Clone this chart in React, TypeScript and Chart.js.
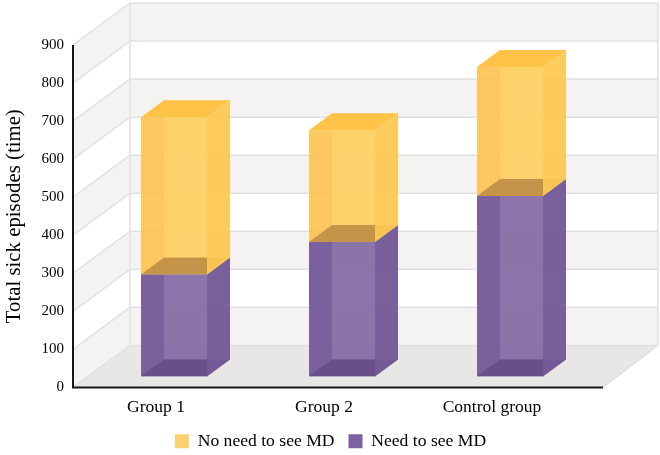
import React, { useEffect, useRef } from "react";
import { Chart, registerables } from "chart.js";

Chart.register(...registerables);

const categories = ["Group 1", "Group 2", "Control group"];
const needMd = [268, 353, 474];
const noNeedMd = [413, 294, 339];

const SERIF = '"Liberation Serif", "Times New Roman", serif';
const WALL_DX = 57, WALL_DY = 42;
const BAR_DX = 17, BAR_DY = 11;
const DEPTH_DX = 23, DEPTH_DY = 17;

const looks = [
  { center: "rgba(255,255,255,0.12)", side: "rgba(110,84,147,0.92)", top: "rgba(114,72,39,0.4)", bottom: "rgba(70,50,110,0.35)" },
  { center: "rgba(255,230,130,0.35)", side: "rgba(254,198,75,0.9)", top: "rgba(254,190,55,0.92)", bottom: "rgba(0,0,0,0)" },
];

function poly(ctx: CanvasRenderingContext2D, pts: number[][], fill: string) {
  ctx.beginPath();
  pts.forEach((p, i) => (i ? ctx.lineTo(p[0], p[1]) : ctx.moveTo(p[0], p[1])));
  ctx.closePath();
  ctx.fillStyle = fill;
  ctx.fill();
}

const scene3d = {
  id: "scene3d",
  afterLayout(chart: any) {
    const l = chart.legend;
    if (l) {
      l.left += 42;
      l.right += 42;
    }
  },
  beforeDatasetsDraw(chart: any) {
    const { ctx, chartArea: a, scales } = chart;
    const y = scales.y;
    const left = a.left, bottom = a.bottom;
    const frontRight = a.right + 26;
    const backRight = a.right + 26 + 55;
    const backLeft = left + WALL_DX;
    ctx.save();
    const ys: number[] = y.ticks.map((t: any) => y.getPixelForValue(t.value));
    for (let i = 0; i < ys.length - 1; i++) {
      if (i % 2 === 0) {
        const y0 = ys[i], y1 = ys[i + 1];
        poly(ctx, [[left, y0], [backLeft, y0 - WALL_DY], [backLeft, y1 - WALL_DY], [left, y1]], "#F5F3F2");
        ctx.fillStyle = "#F5F3F2";
        ctx.fillRect(backLeft, y1 - WALL_DY, backRight - backLeft, y0 - y1);
      }
    }
    poly(ctx, [[left, bottom], [frontRight, bottom], [backRight, bottom - WALL_DY], [backLeft, bottom - WALL_DY]], "#E8E7E6");
    ctx.strokeStyle = "#E3E1E0";
    ctx.lineWidth = 1.5;
    ctx.beginPath();
    ys.forEach((p) => {
      ctx.moveTo(left, p);
      ctx.lineTo(backLeft, p - WALL_DY);
      ctx.lineTo(backRight, p - WALL_DY);
    });
    ctx.moveTo(backLeft, a.top - WALL_DY);
    ctx.lineTo(backLeft, bottom - WALL_DY);
    ctx.moveTo(backRight, a.top - WALL_DY);
    ctx.lineTo(backRight, bottom - WALL_DY);
    ctx.lineTo(frontRight, bottom);
    ctx.stroke();
    ctx.strokeStyle = "#161616";
    ctx.lineWidth = 2;
    ctx.beginPath();
    ctx.moveTo(left, a.top);
    ctx.lineTo(left, bottom);
    ctx.lineTo(frontRight, bottom);
    ctx.stroke();
    ctx.restore();
  },
  beforeDatasetDraw(chart: any) {
    chart.ctx.save();
    chart.ctx.translate(BAR_DX, -BAR_DY);
  },
  afterDatasetDraw(chart: any) {
    chart.ctx.restore();
  },
  afterDatasetsDraw(chart: any) {
    const ctx = chart.ctx;
    ctx.save();
    chart.data.datasets.forEach((_: any, di: number) => {
      const look = looks[di];
      chart.getDatasetMeta(di).data.forEach((el: any) => {
        const l = el.x - el.width / 2 + BAR_DX;
        const r = el.x + el.width / 2 + BAR_DX;
        const t = el.y - BAR_DY;
        const b = el.base - BAR_DY;
        poly(ctx, [[l + DEPTH_DX, t], [r, t], [r, b - DEPTH_DY], [l + DEPTH_DX, b - DEPTH_DY]], look.center);
        poly(ctx, [[l, b], [r, b], [r + DEPTH_DX, b - DEPTH_DY], [l + DEPTH_DX, b - DEPTH_DY]], look.bottom);
        poly(ctx, [[l, t], [r, t], [r + DEPTH_DX, t - DEPTH_DY], [l + DEPTH_DX, t - DEPTH_DY]], look.top);
        poly(ctx, [[r, t], [r + DEPTH_DX, t - DEPTH_DY], [r + DEPTH_DX, b - DEPTH_DY], [r, b]], look.side);
      });
    });
    ctx.restore();
  },
};

export default function App() {
  const ref = useRef<HTMLCanvasElement>(null);
  useEffect(() => {
    const chart = new Chart(ref.current!, {
      type: "bar",
      data: {
        labels: categories,
        datasets: [
          { label: "Need to see MD", data: needMd, backgroundColor: "rgba(112,85,150,0.92)" },
          { label: "No need to see MD", data: noNeedMd, backgroundColor: "rgba(253,194,80,0.9)" },
        ],
      },
      plugins: [scene3d as any],
      options: {
        responsive: false,
        animation: false,
        events: [],
        layout: { padding: { top: 45, right: 83, bottom: -5, left: 0 } },
        datasets: { bar: { categoryPercentage: 1, barPercentage: 66 / 168 } },
        scales: {
          x: {
            stacked: true,
            grid: { display: false, drawTicks: false },
            border: { display: false },
            ticks: { color: "#000", font: { family: SERIF, size: 17.5 }, padding: 10, maxRotation: 0, labelOffset: -1 },
            afterFit: (s: any) => { s.height = 31; },
          },
          y: {
            stacked: true,
            min: 0,
            max: 900,
            grid: { display: false, drawTicks: false },
            border: { display: false },
            ticks: { stepSize: 100, color: "#000", font: { family: SERIF, size: 15 }, padding: 9 },
            title: {
              display: true,
              text: "Total sick episodes (time)",
              color: "#000",
              font: { family: SERIF, size: 20.8 },
              padding: { top: 2, bottom: 0 },
            },
            afterFit: (s: any) => { s.width = 73; },
          },
        },
        plugins: {
          tooltip: { enabled: false },
          legend: {
            position: "bottom",
            reverse: true,
            labels: {
              boxWidth: 14,
              boxHeight: 14,
              padding: 14,
              color: "#000",
              font: { family: SERIF, size: 17.6 },
              generateLabels: () => [
                { text: "Need to see MD", fillStyle: "#7C62A0", strokeStyle: "#7C62A0", lineWidth: 0, datasetIndex: 0, fontColor: "#000" },
                { text: "No need to see MD", fillStyle: "#FDD06F", strokeStyle: "#FDD06F", lineWidth: 0, datasetIndex: 1, fontColor: "#000" },
              ],
            },
          },
        },
      } as any,
    });
    return () => chart.destroy();
  }, []);
  return (
    <div style={{ position: "fixed", left: 0, top: 0, width: 660, height: 455 }}>
      <canvas ref={ref} width={660} height={455} style={{ display: "block", filter: "blur(0.35px)" }} />
    </div>
  );
}
